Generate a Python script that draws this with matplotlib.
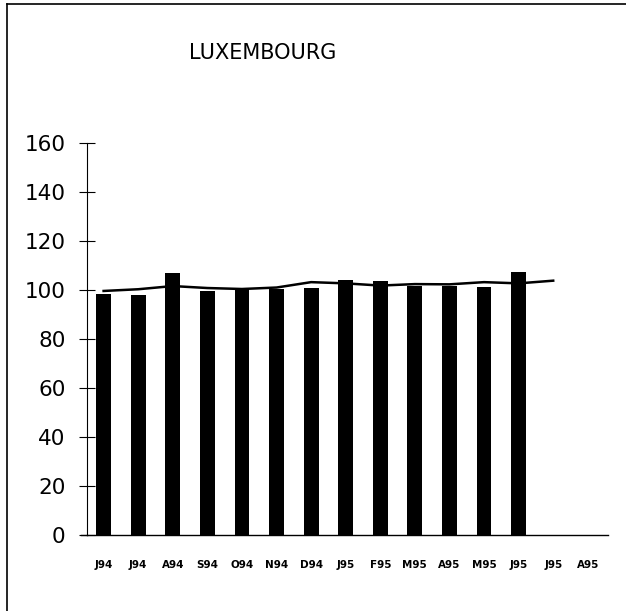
"""Luxembourg monthly index: bars with a trend line."""

import matplotlib
matplotlib.use('Agg')
import matplotlib.pyplot as plt
from matplotlib.lines import Line2D

months = ['J94', 'J94', 'A94', 'S94', 'O94', 'N94', 'D94', 'J95',
          'F95', 'M95', 'A95', 'M95', 'J95', 'J95', 'A95']
index_values = [98.2, 98.0, 107.0, 99.7, 100.2, 100.4, 100.7, 104.0,
                103.8, 101.6, 101.6, 101.4, 107.5]
trend_values = [99.6, 100.3, 101.6, 100.8, 100.4, 101.0, 103.2, 102.7,
                101.8, 102.4, 102.3, 103.2, 102.7, 103.8]
yticks = [0, 20, 40, 60, 80, 100, 120, 140, 160]

fig = plt.figure(figsize=(6.26, 6.11), dpi=100)
ax = fig.add_axes([0.139, 0.1244, 0.832, 0.6416])

x_bars = range(len(index_values))
x_trend = range(len(trend_values))
ax.bar(x_bars, index_values, width=0.43, color='black', zorder=2)
ax.plot(x_trend, trend_values, color='black', lw=1.8, zorder=3)

ax.set_xlim(-0.48, 14.58)
ax.set_ylim(0, 160)
ax.set_yticks(yticks)
ax.set_xticks(range(len(months)))
ax.set_xticklabels(months, fontsize=7.5, fontweight='bold')
ax.tick_params(axis='x', length=0, pad=18)
ax.tick_params(axis='y', direction='inout', length=11, width=0.8,
               labelsize=15.5, pad=10)

for side in ['top', 'right']:
    ax.spines[side].set_visible(False)
ax.spines['left'].set_linewidth(0.8)
ax.spines['bottom'].set_linewidth(1.0)

# the category axis line runs a little past the value axis on the left
ax.add_artist(Line2D([-0.012, 0.0], [0.0, 0.0], transform=ax.transAxes,
                     color='black', lw=1.0, clip_on=False))

fig.text(0.42, 0.913, 'LUXEMBOURG', ha='center', va='center', fontsize=15)

# frame remnants: left and top border lines
fig.add_artist(Line2D([0.011, 0.011], [0.0, 0.994], color='black', lw=1.2))
fig.add_artist(Line2D([0.011, 1.0], [0.994, 0.994], color='black', lw=1.2))

fig.savefig('out.png', dpi=100)
